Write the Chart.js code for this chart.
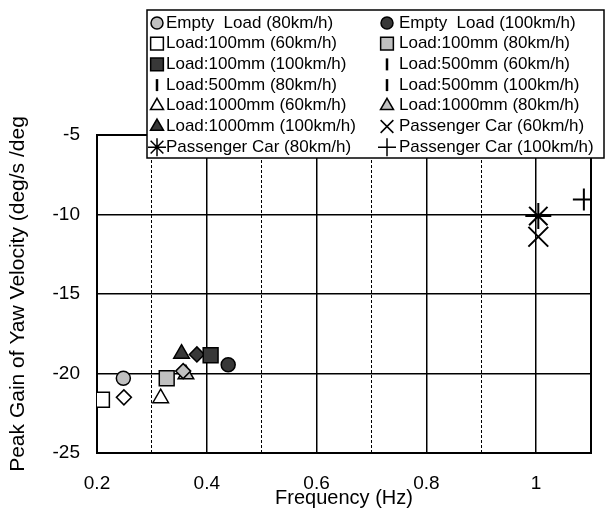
<!DOCTYPE html>
<html>
<head>
  <title>Peak Gain of Yaw Velocity</title>
  <script src="https://cdn.jsdelivr.net/npm/chart.js"></script>
  <style>
    body {
      margin: 0;
      background-color: #fff;
    }
  </style>
</head>
<body>
  <canvas id="gainChart" width="607" height="508"></canvas>
  <script>
    // one point per test condition
    var seriesNames = [
      'Empty  Load (80km/h)', 'Empty  Load (100km/h)',
      'Load:100mm (60km/h)', 'Load:100mm (80km/h)',
      'Load:100mm (100km/h)', 'Load:500mm (60km/h)',
      'Load:500mm (80km/h)', 'Load:500mm (100km/h)',
      'Load:1000mm (60km/h)', 'Load:1000mm (80km/h)',
      'Load:1000mm (100km/h)', 'Passenger Car (60km/h)',
      'Passenger Car (80km/h)', 'Passenger Car (100km/h)'
    ];
    var frequency = [0.248, 0.439, 0.209, 0.327, 0.407, 0.249, 0.357, 0.382, 0.316, 0.362, 0.354, 1.004, 1.004, 1.087];
    var peakGain = [-20.3, -19.45, -21.65, -20.3, -18.85, -21.5, -19.85, -18.8, -21.55, -20.05, -18.75, -11.4, -10.1, -9.05];

    var xTicks = [0.2, 0.4, 0.6, 0.8, 1];
    var xMinorTicks = [0.3, 0.5, 0.7, 0.9];
    var yTicks = [-25, -20, -15, -10, -5];

    // marker look for each series
    var markerShapes = ['circle', 'circle', 'rect', 'rect', 'rect', 'rectRot', 'rectRot', 'rectRot',
                        'triangle', 'triangle', 'triangle', 'crossRot', 'star', 'cross'];
    var markerFills = ['#c0c0c0', '#383838', '#ffffff', '#c0c0c0', '#383838', '#ffffff', '#c0c0c0', '#383838',
                       '#ffffff', '#c0c0c0', '#383838', '#000000', '#000000', '#000000'];
    var markerSizes = [7, 7, 10.5, 10.5, 10.5, 7.5, 7.5, 7.5, 9, 9, 9, 14, 13, 11];

    Chart.defaults.font.family = '"Liberation Sans", Arial, sans-serif';
    Chart.defaults.color = '#000';

    var datasets = seriesNames.map(function(name, i) {
      var isCross = markerShapes[i].indexOf('cross') === 0 || markerShapes[i] === 'star';
      return {
        label: name,
        data: [{ x: frequency[i], y: peakGain[i] }],
        pointStyle: markerShapes[i],
        pointRadius: markerSizes[i],
        pointBackgroundColor: markerFills[i],
        pointBorderColor: '#000',
        pointBorderWidth: isCross ? 2 : 1.5
      };
    });

    // plot frame
    var framePlugin = {
      id: 'frame',
      beforeDatasetsDraw: function(chart) {
        var a = chart.chartArea, ctx = chart.ctx;
        ctx.save();
        ctx.strokeStyle = '#000';
        ctx.lineWidth = 2;
        ctx.strokeRect(a.left, a.top, a.right - a.left, a.bottom - a.top);
        ctx.restore();
      }
    };

    // boxed two-column legend sitting over the top of the plot
    var legendPlugin = {
      id: 'boxLegend',
      afterDraw: function(chart) {
        var ctx = chart.ctx;
        ctx.save();
        ctx.fillStyle = '#fff';
        ctx.fillRect(147, 10, 457, 148);
        ctx.strokeStyle = '#000';
        ctx.lineWidth = 1.5;
        ctx.strokeRect(147, 10, 457, 148);
        ctx.font = '17px "Liberation Sans", Arial, sans-serif';
        ctx.textBaseline = 'middle';
        seriesNames.forEach(function(name, i) {
          var col = i % 2;
          var row = Math.floor(i / 2);
          var mx = col ? 387 : 157;
          var tx = col ? 399 : 166;
          var y = 23 + row * 20.7;
          var shape = markerShapes[i];
          var opts = { pointStyle: shape, rotation: 0, radius: 9, borderWidth: 1.5 };
          if (shape === 'rectRot') {
            opts = { pointStyle: 'line', rotation: 90, radius: 6, borderWidth: 2.5 };
          } else if (shape === 'circle') {
            opts.radius = 6;
          } else if (shape === 'triangle') {
            opts.radius = 7.5;
          }
          ctx.fillStyle = markerFills[i];
          ctx.strokeStyle = '#000';
          ctx.lineWidth = opts.borderWidth;
          Chart.helpers.drawPoint(ctx, opts, mx, y);
          ctx.fillStyle = '#000';
          ctx.fillText(name, tx, y);
        });
        ctx.restore();
      }
    };

    var ctx1 = document.getElementById('gainChart').getContext('2d');
    var gainChart = new Chart(ctx1, {
      type: 'scatter',
      data: { datasets: datasets },
      options: {
        responsive: false,
        animation: false,
        layout: { padding: { top: 135, right: 11, left: 0, bottom: 0 } },
        plugins: {
          legend: { display: false },
          tooltip: { enabled: false }
        },
        scales: {
          x: {
            type: 'linear',
            position: 'bottom',
            min: 0.2,
            max: 1.1,
            afterBuildTicks: function(scale) {
              scale.ticks = xTicks.map(function(v) { return { value: v }; });
            },
            afterFit: function(scale) { scale.height = 55; },
            ticks: {
              padding: 19,
              font: { size: 19 },
              callback: function(v) { return String(v); }
            },
            grid: { color: '#000', lineWidth: 1.5, drawTicks: false },
            border: { display: false },
            title: {
              display: true,
              text: 'Frequency (Hz)',
              font: { size: 20, lineHeight: 1 },
              padding: 0
            }
          },
          xMinor: {
            type: 'linear',
            position: 'bottom',
            min: 0.2,
            max: 1.1,
            afterBuildTicks: function(scale) {
              scale.ticks = xMinorTicks.map(function(v) { return { value: v }; });
            },
            afterFit: function(scale) { scale.height = 0; },
            ticks: { display: false },
            grid: { color: '#000', lineWidth: 1, drawTicks: false },
            border: { display: false, dash: [3, 2] }
          },
          y: {
            type: 'linear',
            min: -25,
            max: -5,
            afterBuildTicks: function(scale) {
              scale.ticks = yTicks.map(function(v) { return { value: v }; });
            },
            afterFit: function(scale) { scale.width = 97; },
            ticks: {
              padding: 17,
              font: { size: 19 }
            },
            grid: { color: '#000', lineWidth: 1.5, drawTicks: false },
            border: { display: false },
            title: {
              display: true,
              text: 'Peak Gain of Yaw Velocity (deg/s /deg',
              font: { size: 21, lineHeight: 1 },
              padding: { top: 7.5, bottom: 0 }
            }
          }
        }
      },
      plugins: [framePlugin, legendPlugin]
    });
  </script>
</body>
</html>
